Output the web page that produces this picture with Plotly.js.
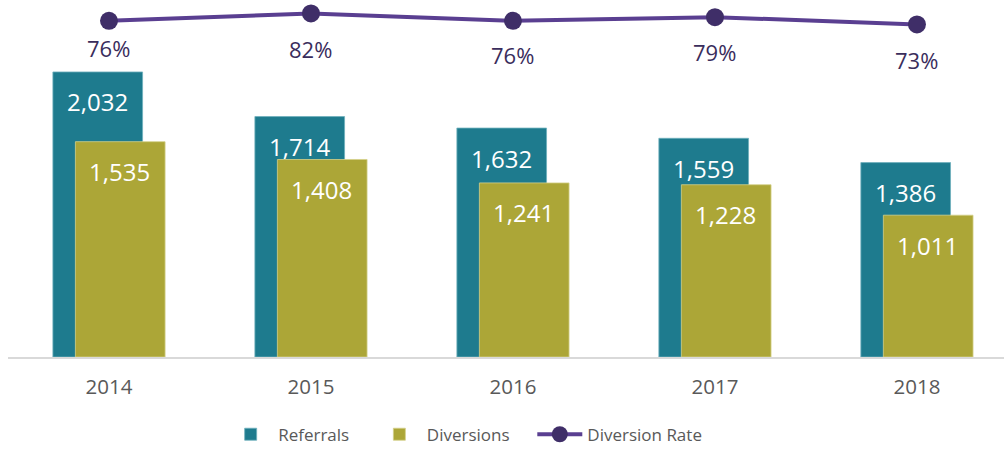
<!DOCTYPE html>
<html>
<head>
<meta charset="utf-8">
<script src="https://cdn.plot.ly/plotly-3.0.1.min.js"></script>
<style>
html,body{margin:0;padding:0;background:#fff;}
#chart{width:1004px;height:453px;}
</style>
</head>
<body>
<div id="chart"></div>
<script>
const years = ['2014', '2015', '2016', '2017', '2018'];
const referrals = [2032, 1714, 1632, 1559, 1386];
const diversions = [1535, 1408, 1241, 1228, 1011];
const diversionRate = [0.76, 0.82, 0.76, 0.79, 0.73];
const seriesNames = ['Referrals', 'Diversions', 'Diversion Rate'];

// styling
const teal = '#1e7b8e';
const olive = '#aca637';
const lineColor = '#5a3f91';
const markerColor = '#3f2e68';
const rateLabelDrop = [27, 36, 34, 35, 36];
const barWidth = 0.444;
const barGap = 0.0557;
const fontFam = '"Open Sans", "Noto Sans", sans-serif';
const legendPad = '\u00a0\u00a0\u00a0\u00a0';

const traces = [
  {
    type: 'bar', name: seriesNames[0] + legendPad, x: years, y: referrals,
    width: barWidth, offset: -barGap - barWidth / 2,
    marker: {color: teal, line: {color: '#6fb0bd', width: 0.8}},
    hoverinfo: 'skip'
  },
  {
    type: 'bar', name: seriesNames[1] + legendPad, x: years, y: diversions,
    width: barWidth, offset: barGap - barWidth / 2,
    marker: {color: olive, line: {color: '#d4d08a', width: 0.8}},
    hoverinfo: 'skip'
  },
  {
    type: 'scatter', mode: 'lines+markers', name: seriesNames[2],
    x: years, y: diversionRate, yaxis: 'y2',
    line: {color: lineColor, width: 4},
    marker: {color: markerColor, size: 18},
    cliponaxis: false, hoverinfo: 'skip'
  }
];

const annotations = [];
years.forEach((yr, i) => {
  annotations.push({
    x: i, y: referrals[i], xref: 'x', yref: 'y', xshift: -11, yshift: -30,
    text: referrals[i].toLocaleString('en-US'), showarrow: false,
    font: {family: fontFam, size: 24, color: '#ffffff'}, yanchor: 'middle'
  });
  annotations.push({
    x: i, y: diversions[i], xref: 'x', yref: 'y', xshift: 11, yshift: -30,
    text: diversions[i].toLocaleString('en-US'), showarrow: false,
    font: {family: fontFam, size: 24, color: '#ffffff'}, yanchor: 'middle'
  });
  annotations.push({
    x: i, y: diversionRate[i], xref: 'x', yref: 'y2', yshift: -rateLabelDrop[i],
    text: Math.round(diversionRate[i] * 100) + '%', showarrow: false,
    font: {family: fontFam, size: 22, color: '#3a2d5c'}, yanchor: 'middle'
  });
});

const layout = {
  width: 1004, height: 453,
  margin: {l: 8, r: 0, t: 0, b: 96},
  paper_bgcolor: '#ffffff', plot_bgcolor: '#ffffff',
  barmode: 'overlay',
  showlegend: true,
  legend: {
    orientation: 'h', x: 0.459, xanchor: 'center', y: -0.268, yanchor: 'bottom',
    font: {family: fontFam, size: 17, color: '#595959'},
    itemwidth: 45, traceorder: 'normal'
  },
  xaxis: {
    type: 'category', range: [-0.5, 4.431], automargin: false,
    showline: true, linecolor: '#d9d9d9', linewidth: 2,
    showgrid: false, zeroline: false, ticks: '',
    tickfont: {family: fontFam, size: 20.5, color: '#595959'},
    ticklabelstandoff: 10
  },
  yaxis: {
    range: [0, 2545], visible: false, showgrid: false, zeroline: false
  },
  yaxis2: {
    overlaying: 'y', side: 'right', range: [-1.996, 0.9305],
    visible: false, showgrid: false, zeroline: false
  },
  annotations: annotations
};

Plotly.newPlot('chart', traces, layout, {displayModeBar: false, staticPlot: true});
</script>
</body>
</html>
